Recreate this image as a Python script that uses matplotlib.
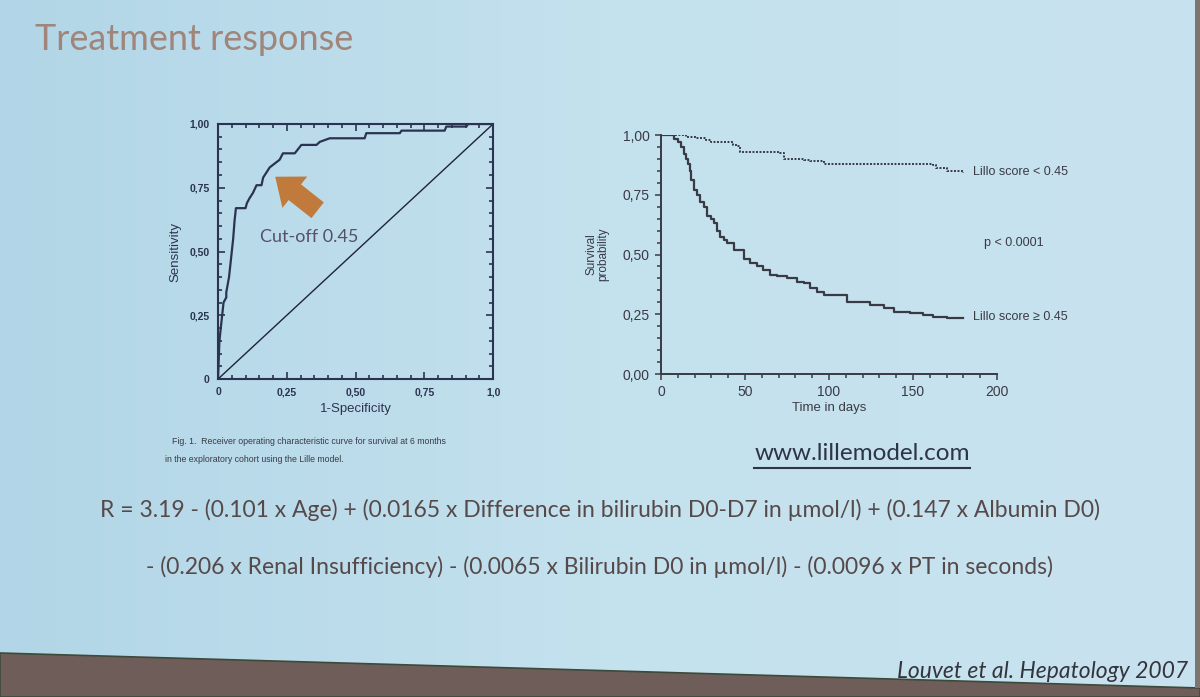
import numpy as np
import matplotlib.pyplot as plt
from matplotlib.patches import Polygon
from matplotlib.ticker import MultipleLocator, FixedLocator

# ROC curve (1-specificity, sensitivity)
roc_fpr = [0, 0.005, 0.01, 0.02, 0.03, 0.03, 0.04, 0.045, 0.05, 0.055, 0.06, 0.065,
           0.10, 0.105, 0.115, 0.127, 0.14, 0.158, 0.164, 0.176, 0.188, 0.206, 0.224,
           0.236, 0.279, 0.303, 0.358, 0.37, 0.406, 0.533, 0.539, 0.661, 0.667, 0.824,
           0.83, 0.903, 0.909, 1.0]
roc_tpr = [0, 0.15, 0.20, 0.30, 0.32, 0.34, 0.40, 0.45, 0.50, 0.55, 0.62, 0.67,
           0.67, 0.69, 0.71, 0.73, 0.76, 0.76, 0.79, 0.81, 0.83, 0.845, 0.86,
           0.885, 0.885, 0.918, 0.918, 0.93, 0.944, 0.944, 0.964, 0.964, 0.974, 0.974,
           0.99, 0.99, 1.0, 1.0]

# Kaplan-Meier curves (days, survival)
low_days = [0, 9.5, 15, 21, 27, 30, 43, 45, 47, 56, 71, 73, 85, 89, 97, 162, 164, 170, 180]
low_surv = [1.0, 1.0, 0.99, 0.986, 0.98, 0.97, 0.96, 0.955, 0.93, 0.93, 0.925, 0.90,
            0.895, 0.89, 0.88, 0.875, 0.86, 0.85, 0.84]
high_days = [0, 5.5, 8, 10, 12, 13.5, 15, 16, 17, 18, 19.4, 21.4, 23.4, 25.4, 27.4, 29.5,
             31.3, 33.3, 35.3, 37.5, 39.3, 43.3, 46, 49.2, 53, 57, 61, 65, 69, 75, 81,
             85, 89, 93, 97, 105, 110.7, 116.7, 124.6, 132.5, 138.5, 144, 148, 156, 162,
             170, 180]
high_surv = [1.0, 1.0, 0.985, 0.97, 0.95, 0.92, 0.90, 0.88, 0.85, 0.81, 0.77, 0.75, 0.72,
             0.70, 0.66, 0.65, 0.63, 0.60, 0.575, 0.56, 0.55, 0.52, 0.52, 0.48, 0.465,
             0.45, 0.435, 0.415, 0.41, 0.40, 0.385, 0.38, 0.36, 0.345, 0.33, 0.33, 0.30,
             0.30, 0.29, 0.275, 0.26, 0.26, 0.255, 0.245, 0.24, 0.233, 0.233]

roc_ticks = [0, 0.25, 0.5, 0.75, 1.0]
roc_xlabels = ['0', '0,25', '0,50', '0,75', '1,0']
roc_ylabels = ['0', '0,25', '0,50', '0,75', '1,00']
km_xticks = [0, 50, 100, 150, 200]
km_yticks = [0, 0.25, 0.5, 0.75, 1.0]
km_ylabels = ['0,00', '0,25', '0,50', '0,75', '1,00']

navy = '#2c3350'
gray = '#3a3a45'
txt = '#56494a'

fig = plt.figure(figsize=(12, 6.97), dpi=100)
fig.patch.set_facecolor('#bbdbe9')

# slide shading and bottom edge of the photo
grad = fig.add_axes([0, 0, 1, 1], zorder=-10)
g = np.linspace(0, 1, 256).reshape(1, -1)
grad.imshow(g, cmap=plt.matplotlib.colors.LinearSegmentedColormap.from_list(
    'bg', ['#b2d6e7', '#c4e1ee', '#c8e3ee']), aspect='auto', extent=[0, 1, 0, 1])
grad.axis('off')
fig.add_artist(Polygon([[0, 0], [0, 1 - 653 / 697], [1, 1 - 688 / 697], [1, 0]],
                       closed=True, transform=fig.transFigure, facecolor='#6e5d58',
                       edgecolor='#3c4a3a', lw=1.2))
fig.add_artist(Polygon([[0.996, 1 - 688 / 697], [0.996, 1], [1, 1], [1, 1 - 688 / 697]],
                       closed=True, transform=fig.transFigure, facecolor='#7d756f', lw=0))

tick_font = dict(family='Liberation Sans', weight='bold', size=7.5, color=navy)

# ROC plot
ax1 = fig.add_axes([0.1817, 0.4562, 0.2292, 0.3659])
ax1.set_facecolor('none')
ax1.plot(roc_fpr, roc_tpr, color=navy, lw=1.6)
ax1.plot([0, 1], [0, 1], color='#1e2438', lw=1.0)
ax1.set_xlim(0, 1)
ax1.set_ylim(0, 1)
for s in ax1.spines.values():
    s.set_color(navy)
    s.set_linewidth(1.5)
ax1.xaxis.set_major_locator(FixedLocator(roc_ticks))
ax1.yaxis.set_major_locator(FixedLocator(roc_ticks))
ax1.xaxis.set_minor_locator(MultipleLocator(0.05))
ax1.yaxis.set_minor_locator(MultipleLocator(0.05))
ax1.tick_params(which='both', direction='in', top=True, right=True, color=navy, width=1.2)
ax1.tick_params(which='major', length=5, pad=6)
ax1.tick_params(which='minor', length=3)
ax1.set_xticklabels(roc_xlabels, **tick_font)
ax1.set_yticklabels(roc_ylabels, **tick_font)
ax1.set_xlabel('1-Specificity', family='Liberation Sans', size=9.5, color=navy, labelpad=4)
ax1.set_ylabel('Sensitivity', family='Liberation Sans', size=9.5, color=navy, labelpad=6)
ax1.annotate('', xy=(0.2, 0.80), xytext=(0.37, 0.655),
             arrowprops=dict(arrowstyle='simple,head_length=1.0,head_width=1.6,tail_width=0.8',
                             color='#c07a3c', lw=0, mutation_scale=18))
ax1.text(0.153, 0.555, 'Cut-off 0.45', family='Lato', size=13, color='#555066', va='center')

# Kaplan-Meier plot
ax2 = fig.add_axes([0.5508, 0.4634, 0.28, 0.3429])
ax2.set_facecolor('none')
ax2.step(low_days, low_surv, where='post', color=gray, lw=1.4, ls=(0, (1, 0.8)))
ax2.step(high_days, high_surv, where='post', color=gray, lw=1.6)
ax2.set_xlim(0, 200)
ax2.set_ylim(0, 1)
for side in ['top', 'right']:
    ax2.spines[side].set_visible(False)
for side in ['left', 'bottom']:
    ax2.spines[side].set_color(gray)
    ax2.spines[side].set_linewidth(1.4)
ax2.xaxis.set_major_locator(FixedLocator(km_xticks))
ax2.yaxis.set_major_locator(FixedLocator(km_yticks))
ax2.xaxis.set_minor_locator(MultipleLocator(10))
ax2.yaxis.set_minor_locator(MultipleLocator(0.05))
ax2.tick_params(which='both', direction='out', color=gray, width=1.1)
ax2.tick_params(which='major', length=4, pad=4)
ax2.tick_params(which='minor', length=3)
ax2.set_xticklabels([str(v) for v in km_xticks], family='Liberation Sans', size=10, color=gray)
ax2.set_yticklabels(km_ylabels, family='Liberation Sans', size=10, color=gray)
ax2.set_xlabel('Time in days', family='Liberation Sans', size=9.5, color=gray, labelpad=2)
ax2.set_ylabel('Survival\nprobability', family='Liberation Sans', size=8.5, color=gray,
               labelpad=10, linespacing=0.9)
ax2.text(186, 0.845, 'Lillo score < 0.45', family='Liberation Sans', size=9, color=gray, va='center')
ax2.text(192, 0.55, 'p < 0.0001', family='Liberation Sans', size=9, color=gray, va='center')
ax2.text(186, 0.24, 'Lillo score \u2265 0.45', family='Liberation Sans', size=9, color=gray, va='center')

# slide texts
fig.text(35 / 1200, 1 - 40 / 697, 'Treatment response', family='Lato', size=26,
         color='#a0857a', va='center')
fig.text(172 / 1200, 1 - 442 / 697,
         'Fig. 1.  Receiver operating characteristic curve for survival at 6 months',
         family='Liberation Sans', size=6.3, color=gray, va='center')
fig.text(165 / 1200, 1 - 460 / 697, 'in the exploratory cohort using the Lille model.',
         family='Liberation Sans', size=6.3, color=gray, va='center')
fig.text(862 / 1200, 1 - 454 / 697, 'www.lillemodel.com', family='Lato', size=17.5,
         color='#2e3448', ha='center', va='center')
fig.add_artist(plt.Line2D([754 / 1200, 970 / 1200], [1 - 468 / 697, 1 - 468 / 697],
                          color='#2e3448', lw=1.5))
fig.text(600 / 1200, 1 - 510 / 697,
         'R = 3.19 - (0.101 x Age) + (0.0165 x Difference in bilirubin D0-D7 in \u00b5mol/l) + (0.147 x Albumin D0)',
         family='Lato', size=16.5, color=txt, ha='center', va='center')
fig.text(600 / 1200, 1 - 567 / 697,
         '- (0.206 x Renal Insufficiency) - (0.0065 x Bilirubin D0 in \u00b5mol/l) - (0.0096 x PT in seconds)',
         family='Lato', size=16.5, color=txt, ha='center', va='center')
fig.text(1188 / 1200, 1 - 671 / 697, 'Louvet et al. Hepatology 2007', family='Lato',
         style='italic', size=16.5, color='#33343c', ha='right', va='center')

fig.savefig('out.png', dpi=100, facecolor=fig.get_facecolor())
